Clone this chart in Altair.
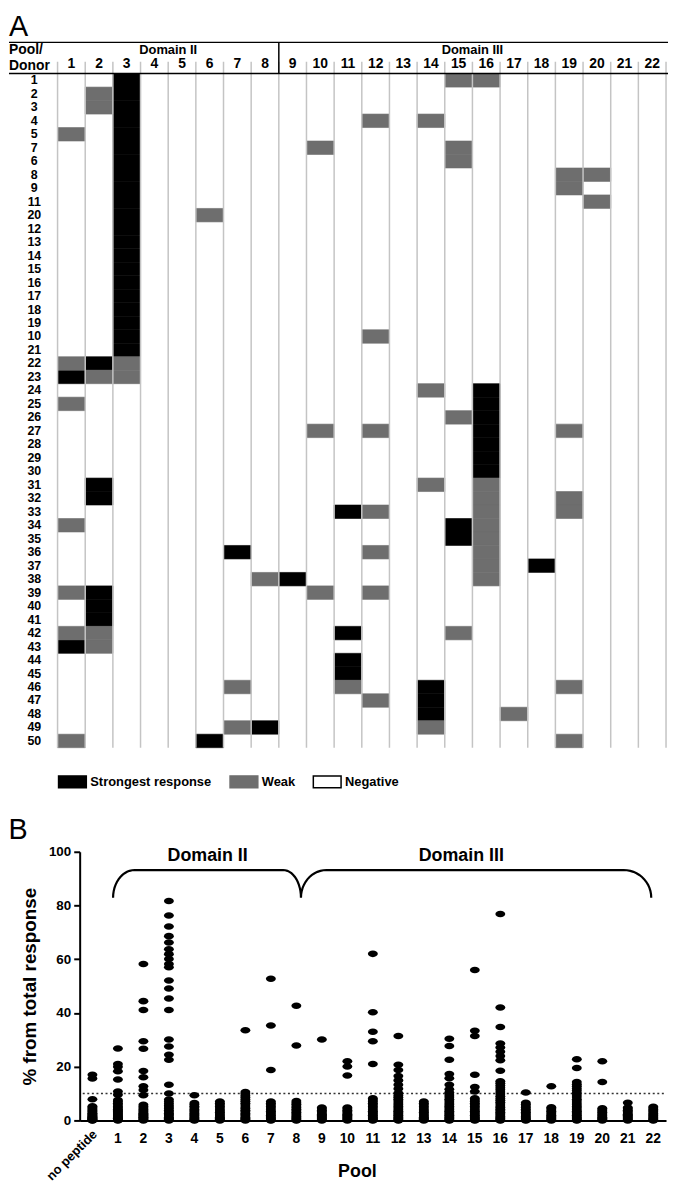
import altair as alt
import numpy as np
import pandas as pd

# ---------------- Panel A data ----------------
donor_order = ["1", "2", "3", "4", "5", "7", "6", "8", "9", "11", "20", "12", "13", "14", "15",
               "16", "17", "18", "19", "10", "21", "22", "23", "24", "25", "26", "27", "28", "29",
               "30", "31", "32", "33", "34", "35", "36", "37", "38", "39", "40", "41", "42", "43",
               "44", "45", "46", "47", "48", "49", "50"]
pools = ["1", "2", "3", "4", "5", "6", "7", "8", "9", "10", "11", "12", "13", "14", "15", "16",
         "17", "18", "19", "20", "21", "22"]

strong_donors = ["1", "2", "3", "4", "5", "7", "6", "8", "9", "11", "20", "12", "13", "14", "15",
                 "16", "17", "18", "19", "10", "21",
                 "22", "31", "32", "39", "40", "41",
                 "23", "43",
                 "24", "25", "26", "27", "28", "29", "30",
                 "33", "42", "44", "45",
                 "34", "35", "36", "37", "38", "46", "47", "48", "49", "50"]
strong_pools = ["3", "3", "3", "3", "3", "3", "3", "3", "3", "3", "3", "3", "3", "3", "3",
                "3", "3", "3", "3", "3", "3",
                "2", "2", "2", "2", "2", "2",
                "1", "1",
                "16", "16", "16", "16", "16", "16", "16",
                "11", "11", "11", "11",
                "15", "15", "7", "18", "9", "14", "14", "14", "8", "6"]

weak_donors = ["1", "1", "2", "3", "4", "4", "5", "7", "7", "6", "8", "8", "9", "11", "20", "10",
               "22", "22", "23", "23", "24", "25", "26", "27", "27", "27", "31", "31", "32", "32",
               "33", "33", "33", "34", "34", "35", "36", "36", "37", "38", "38", "39", "39", "39",
               "42", "42", "42", "43", "46", "46", "46", "47", "48", "49", "49", "50", "50"]
weak_pools = ["15", "16", "2", "2", "12", "14", "1", "10", "15", "15", "19", "20", "19", "20", "6", "12",
              "1", "3", "2", "3", "14", "1", "15", "10", "12", "19", "14", "16", "16", "19",
              "12", "16", "19", "1", "16", "16", "12", "16", "16", "8", "16", "1", "10", "12",
              "1", "2", "15", "2", "7", "11", "19", "12", "17", "7", "14", "1", "19"]

response_levels = ["Strongest response", "Weak", "Negative"]

# ---------------- Panel B data ----------------
pool_labels = ["no peptide", "1", "2", "3", "4", "5", "6", "7", "8", "9", "10", "11", "12",
               "13", "14", "15", "16", "17", "18", "19", "20", "21", "22"]
no_peptide = [17.0, 15.6, 7.9, 5.3, 4.8, 4.3, 3.9, 3.5, 3.1, 2.7, 2.4, 2.1, 1.8, 1.5, 1.3, 1.1,
              0.9, 0.7, 0.5, 0.3, 0.2, 0.1, 0.0]
pool_1 = [26.8, 21.0, 20.0, 18.3, 15.2, 10.8, 9.6, 7.6, 7.0, 6.4, 5.8, 5.2, 4.7, 4.2, 3.7, 3.3,
          2.9, 2.5, 2.1, 1.7, 1.4, 1.1, 0.8, 0.5, 0.2, 0.0]
pool_2 = [58.2, 44.4, 41.1, 29.5, 26.7, 18.4, 16.1, 12.7, 11.3, 9.4, 5.8, 5.2, 4.6, 4.1, 3.6,
          3.1, 2.7, 2.3, 1.9, 1.5, 1.2, 0.9, 0.6, 0.3, 0.0]
pool_3 = [81.7, 76.3, 72.2, 68.6, 66.2, 63.7, 61.9, 60.1, 58.2, 57.0, 52.1, 49.1, 45.4, 41.1,
          30.1, 27.5, 24.4, 22.6, 13.3, 10.0, 7.8, 7.0, 6.3, 5.6, 5.0, 4.4, 3.8, 3.2, 2.7, 2.2,
          1.7, 1.2, 0.8, 0.4, 0.0]
pool_4 = [9.4, 6.5, 5.9, 5.3, 4.7, 4.1, 3.6, 3.1, 2.6, 2.1, 1.7, 1.3, 0.9, 0.5, 0.2, 0.0]
pool_5 = [7.0, 6.4, 5.8, 5.2, 4.6, 4.0, 3.5, 3.0, 2.5, 2.0, 1.6, 1.2, 0.8, 0.4, 0.0]
pool_6 = [33.6, 10.6, 9.9, 9.2, 8.5, 7.8, 7.1, 6.4, 5.7, 5.0, 4.4, 3.8, 3.2, 2.6, 2.1, 1.6,
          1.1, 0.7, 0.3, 0.0]
pool_7 = [52.7, 35.3, 18.8, 7.0, 6.4, 5.8, 5.2, 4.6, 4.0, 3.4, 2.9, 2.4, 1.9, 1.4, 1.0, 0.6,
          0.2, 0.0]
pool_8 = [42.7, 27.9, 7.2, 6.6, 6.0, 5.4, 4.8, 4.2, 3.6, 3.0, 2.5, 2.0, 1.5, 1.0, 0.6, 0.2, 0.0]
pool_9 = [30.1, 4.8, 4.3, 3.8, 3.3, 2.8, 2.3, 1.9, 1.5, 1.1, 0.7, 0.3, 0.0]
pool_10 = [22.0, 20.1, 16.7, 4.8, 4.3, 3.8, 3.3, 2.8, 2.3, 1.9, 1.5, 1.1, 0.7, 0.3, 0.0]
pool_11 = [62.0, 40.3, 33.0, 29.5, 21.0, 8.2, 7.6, 7.0, 6.4, 5.8, 5.2, 4.6, 4.0, 3.4, 2.9, 2.4,
           1.9, 1.4, 1.0, 0.6, 0.2, 0.0]
pool_12 = [31.4, 20.7, 18.8, 16.5, 14.9, 13.3, 11.8, 10.2, 9.3, 8.6, 7.9, 7.2, 6.5, 5.8, 5.2,
           4.6, 4.0, 3.4, 2.9, 2.4, 1.9, 1.4, 1.0, 0.6, 0.2, 0.0]
pool_13 = [7.0, 6.4, 5.8, 5.2, 4.6, 4.0, 3.5, 3.0, 2.5, 2.0, 1.6, 1.2, 0.8, 0.4, 0.0]
pool_14 = [30.4, 27.7, 22.6, 17.3, 15.7, 13.3, 11.6, 10.4, 9.5, 8.7, 7.9, 7.2, 6.5, 5.8, 5.2,
           4.6, 4.0, 3.4, 2.9, 2.4, 1.9, 1.4, 1.0, 0.6, 0.2, 0.0]
pool_15 = [56.0, 33.4, 31.4, 17.0, 12.4, 10.8, 8.2, 7.6, 7.0, 6.4, 5.8, 5.2, 4.6, 4.0, 3.4, 2.9,
           2.4, 1.9, 1.4, 1.0, 0.6, 0.2, 0.0]
pool_16 = [76.8, 42.0, 34.8, 28.6, 27.1, 25.6, 24.0, 22.4, 18.5, 14.6, 13.8, 13.0, 12.2, 11.4,
           10.6, 9.8, 9.0, 8.2, 7.5, 6.8, 6.1, 5.4, 4.8, 4.2, 3.6, 3.0, 2.5, 2.0, 1.5, 1.0, 0.6,
           0.2, 0.0]
pool_17 = [10.4, 6.6, 6.0, 5.4, 4.8, 4.2, 3.6, 3.0, 2.5, 2.0, 1.5, 1.0, 0.6, 0.2, 0.0]
pool_18 = [12.7, 4.9, 4.4, 3.9, 3.4, 2.9, 2.4, 1.9, 1.5, 1.1, 0.7, 0.3, 0.0]
pool_19 = [22.8, 19.5, 14.3, 13.5, 12.7, 11.9, 11.1, 10.3, 9.5, 8.7, 7.9, 7.2, 6.5, 5.8, 5.2,
           4.6, 4.0, 3.4, 2.9, 2.4, 1.9, 1.4, 1.0, 0.6, 0.2, 0.0]
pool_20 = [22.0, 14.3, 4.5, 4.0, 3.5, 3.0, 2.5, 2.0, 1.6, 1.2, 0.8, 0.4, 0.0]
pool_21 = [6.6, 4.8, 4.3, 3.8, 3.3, 2.8, 2.3, 1.9, 1.5, 1.1, 0.7, 0.3, 0.0]
pool_22 = [5.1, 4.6, 4.1, 3.6, 3.1, 2.6, 2.1, 1.7, 1.3, 0.9, 0.5, 0.2, 0.0]
x_tick_values = [1, 2, 3, 4, 5, 6, 7, 8, 9, 10, 11, 12, 13, 14, 15, 16, 17, 18, 19, 20, 21, 22]
y_tick_values = [0, 20, 40, 60, 80, 100]
threshold = 10

# ---------------- helpers ----------------
FONT = "Liberation Sans"
ELLIPSE = "M-1,0A1,0.66,0,1,1,1,0A1,0.66,0,1,1,-1,0Z"
LEGEND_BOX = "M-1,-0.43H1V0.43H-1Z"
one = pd.DataFrame({"k": [0]})

# ================= Panel A =================
COL = 27.9
ROW = 13.6
WA = COL * len(pools)
HA = ROW * len(donor_order)

cells = pd.DataFrame({
    "donor": strong_donors + weak_donors,
    "pool": strong_pools + weak_pools,
    "response": [response_levels[0]] * len(strong_donors) + [response_levels[1]] * len(weak_donors),
})

xs = alt.Scale(domain=pools, paddingInner=0, paddingOuter=0)
ys = alt.Scale(domain=donor_order, paddingInner=0, paddingOuter=0)

legend_a = alt.Legend(title=None, orient="none", legendX=0, legendY=HA + 19,
                      direction="horizontal", columns=3, symbolType=LEGEND_BOX,
                      symbolSize=784, symbolStrokeWidth=1.5, labelFontSize=13,
                      labelFontWeight="bold", labelOffset=3, columnPadding=15,
                      padding=0, labelColor="black", labelFont=FONT)

rects = alt.Chart(cells).mark_rect(strokeWidth=0.6).encode(
    x=alt.X("pool:N", scale=xs, title=None,
            axis=alt.Axis(orient="top", title=None, ticks=False, tickSize=0, domain=False,
                          labelAngle=0, labelFontSize=14, labelFontWeight="bold",
                          labelPadding=3, labelColor="black", grid=False)),
    y=alt.Y("donor:N", scale=ys, title=None,
            axis=alt.Axis(title=None, ticks=False, tickSize=0, domain=False,
                          labelFontSize=12.5, labelFontWeight="bold", labelAlign="center",
                          labelPadding=24, labelColor="black", grid=False)),
    color=alt.Color("response:N",
                    scale=alt.Scale(domain=response_levels, range=["#000000", "#6e6e6e", "#ffffff"]),
                    legend=legend_a),
    stroke=alt.Stroke("response:N",
                      scale=alt.Scale(domain=response_levels, range=["#000000", "#6e6e6e", "#000000"]),
                      legend=legend_a),
)

grid_df = pd.DataFrame({"pool": pools})
grid = alt.Chart(grid_df).mark_rule(color="#c4c4c4", strokeWidth=1.5).encode(
    x=alt.X("pool:N", bandPosition=0, scale=xs, title=None),
    y=alt.value(-12), y2=alt.value(HA))
grid_end = alt.Chart(one).mark_rule(color="#c4c4c4", strokeWidth=1.5).encode(
    x=alt.XDatum("22", type="nominal", bandPosition=1, title=None),
    y=alt.value(-12), y2=alt.value(HA))
sep = alt.Chart(one).mark_rule(color="black", strokeWidth=1.5).encode(
    x=alt.XDatum("8", type="nominal", bandPosition=1, title=None),
    y=alt.value(-31.5), y2=alt.value(0))
top_line = alt.Chart(one).mark_rule(color="black", strokeWidth=1.5).encode(
    x=alt.value(-49), x2=alt.value(WA + 2), y=alt.value(-31.5))
head_line = alt.Chart(one).mark_rule(color="black", strokeWidth=1.5).encode(
    x=alt.value(-49), x2=alt.value(WA + 2), y=alt.value(0))

def label(txt, x, y, size, weight="bold", align="left"):
    return alt.Chart(one).mark_text(text=txt, fontSize=size, fontWeight=weight, align=align,
                                    baseline="middle", color="black", font=FONT).encode(
        x=x, y=y)

lab_A = label("A", alt.value(-49), alt.value(-47), 29, weight="normal")
lab_pool = label("Pool/", alt.value(-49), alt.value(-23.5), 14)
lab_donor = label("Donor", alt.value(-49), alt.value(-7.5), 14)
lab_d2 = label("Domain II", alt.XDatum("4", type="nominal", bandPosition=1, title=None), alt.value(-23.5), 13, align="center")
lab_d3 = label("Domain III", alt.XDatum("15", type="nominal", bandPosition=1, title=None), alt.value(-23.5), 13, align="center")

panel_a = alt.layer(rects, grid, grid_end, sep, top_line, head_line,
                    lab_A, lab_pool, lab_donor, lab_d2, lab_d3).properties(width=WA, height=HA)

# ================= Panel B =================
XOFF = 22.3          # y axis sits right of the shared left edge
WB = WA
HB = 271
pool_values = [no_peptide, pool_1, pool_2, pool_3, pool_4, pool_5, pool_6, pool_7, pool_8, pool_9,
               pool_10, pool_11, pool_12, pool_13, pool_14, pool_15, pool_16, pool_17, pool_18,
               pool_19, pool_20, pool_21, pool_22]
rows = []
for i, vals in enumerate(pool_values):
    for v in vals:
        rows.append({"pos": i, "value": v, "pool": pool_labels[i]})
strip_df = pd.DataFrame(rows)

xq = alt.Scale(domain=[-0.5, len(pool_labels) - 0.5], range=[XOFF, WB], nice=False, zero=False)
yq = alt.Scale(domain=[0, 100], nice=False, zero=True)

points = alt.Chart(strip_df).mark_point(shape=ELLIPSE, size=100, filled=True, color="black",
                                         opacity=1, strokeWidth=0).encode(
    x=alt.X("pos:Q", scale=xq, title="Pool",
            axis=alt.Axis(values=x_tick_values, title="Pool", ticks=False, tickSize=0,
                          labels=False, domainWidth=2, domainColor="black",
                          titleFontSize=18, titleFontWeight="bold", titlePadding=43,
                          titleX=302, titleColor="black", grid=False, titleFont=FONT)),
    y=alt.Y("value:Q", scale=yq, title="% from total response",
            axis=alt.Axis(values=y_tick_values, title="% from total response", tickSize=6,
                          offset=-XOFF,
                          tickWidth=2, tickColor="black", domainWidth=2, domainColor="black",
                          labelFontSize=13.5, labelFontWeight="bold", labelPadding=3,
                          labelColor="black", titleFontSize=19, titleFontWeight="bold",
                          titlePadding=9, titleColor="black", grid=False, labelFont=FONT,
                          titleFont=FONT)),
)

# pool tick labels drawn through the x scale
xlab_df = pd.DataFrame({"pos": x_tick_values, "value": [0] * len(x_tick_values),
                        "label": pool_labels[1:]})
xlabels = alt.Chart(xlab_df).mark_text(fontSize=14, fontWeight="bold", baseline="middle",
                                       align="center", color="black", font=FONT).encode(
    x="pos:Q", y=alt.value(HB + 19), text="label:N")

thresh = alt.Chart(one).mark_rule(color="#333333", strokeWidth=1.6, strokeDash=[2, 2.6]).encode(
    x=alt.datum(-0.38), x2=alt.value(WB), y=alt.datum(threshold))

# curly brackets (annotation shape) for the two domains
def arc(cx, cy, rx, ry, a0, a1, n=14):
    t = np.radians(np.linspace(a0, a1, n))
    return list(cx + rx * np.cos(t)), list(cy + ry * np.sin(t))

y_low, y_top = 82.9, 93.2
ry = y_top - y_low
left_end, cusp, right_end = 0.81, 8.18, 21.92
bx, by = [], []
for (cx, rx, a0, a1) in [(left_end + 0.85, 0.85, 180, 90), (cusp - 0.7, 0.7, 90, 0),
                         (cusp + 1.0, 1.0, 180, 90), (right_end - 1.08, 1.08, 90, 0)]:
    ax, ay = arc(cx, y_low, rx, ry, a0, a1)
    bx += ax
    by += ay
bracket_df = pd.DataFrame({"pos": bx, "value": by, "i": list(range(len(bx)))})
bracket = alt.Chart(bracket_df).mark_line(color="black", strokeWidth=2.2).encode(
    x="pos:Q", y="value:Q", order="i:Q")

def btext(txt, xv, yv, size):
    return alt.Chart(one).mark_text(text=txt, fontSize=size, fontWeight="bold", align="center",
                                    baseline="middle", color="black", font=FONT).encode(
        x=alt.datum(xv), y=alt.datum(yv))

dom2 = btext("Domain II", 4.52, 98.3, 18)
dom3 = btext("Domain III", 14.47, 98.3, 18)

nopep = alt.Chart(one).mark_text(text=pool_labels[0], angle=315, align="right", baseline="middle",
                                 fontSize=13, fontWeight="bold", color="black", font=FONT).encode(
    x=alt.datum(0.1), y=alt.value(HB + 12))
lab_B = alt.Chart(one).mark_text(text="B", fontSize=29, align="left", baseline="middle",
                                 color="black", font=FONT).encode(
    x=alt.value(-49.5), y=alt.value(-22))

panel_b = alt.layer(thresh, points, xlabels, bracket, dom2, dom3, nopep, lab_B).properties(
    width=WB, height=HB)

chart = alt.vconcat(panel_a, panel_b, spacing=68).properties(padding=0).configure(
    font=FONT).configure_view(stroke=None).configure_axis(labelFont=FONT, titleFont=FONT)

chart.save("out.html", embed_options={"renderer": "svg", "actions": False})
